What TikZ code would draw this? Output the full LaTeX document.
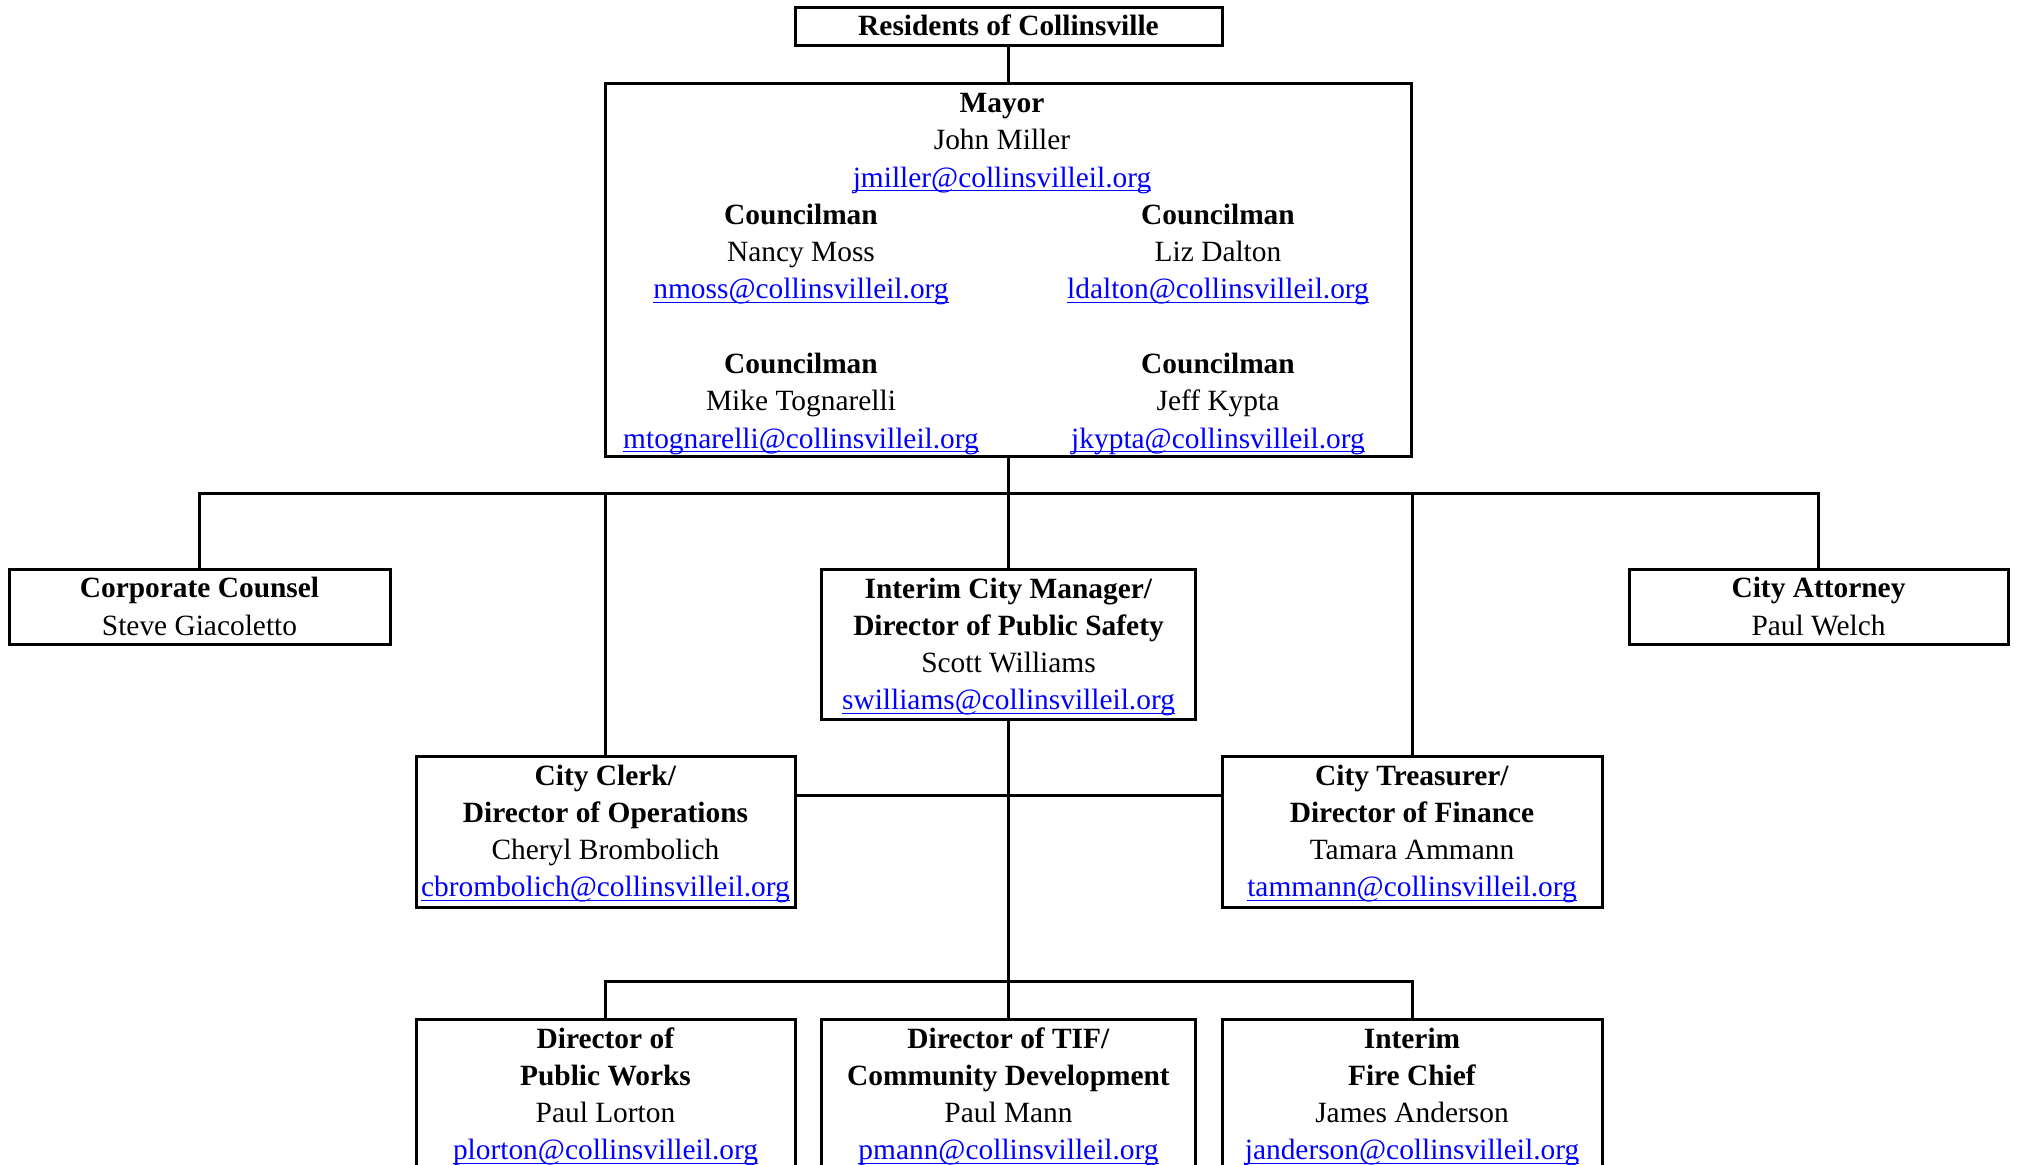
\documentclass[tikz,border=0pt]{standalone}
\usepackage{fontspec}
\setmainfont{Liberation Serif}
\usepackage{xcolor}
\definecolor{linkblue}{RGB}{0,0,255}
\newcommand\Ln[1]{\rule[-4.6pt]{0pt}{18.65pt}#1}
\newcommand\lnk[1]{{\color{linkblue}\setbox0\hbox{#1}\rlap{\rule[-2.1pt]{\wd0}{0.8pt}}\box0}}
\newcommand\orgfont{\fontsize{14.7}{18.65}\selectfont}
\tikzset{
  orgbox/.style={draw, line width=1.5pt, inner sep=0pt, align=center, font=\orgfont},
  txt/.style={inner sep=0pt, align=center, font=\orgfont, anchor=north},
  conn/.style={line width=1.5pt}
}
\begin{document}
\begin{tikzpicture}[x=0.5pt,y=-0.5pt]
\useasboundingbox (0,0) rectangle (2017,1165);
\clip (0,0) rectangle (2017,1165);
\fill[white] (0,0) rectangle (2017,1165);

% boxes
\node[orgbox, minimum width=213.5pt, minimum height=18.5pt] (res) at (1008.5,26.5) {\Ln{\textbf{Residents of Collinsville}}};
\node[orgbox, minimum width=403pt, minimum height=186.5pt] (mayor) at (1008.5,270.5) {};

\node[txt] (m1) at (1002,84) {\Ln{\textbf{Mayor}}};
\node[txt] (m2) at (1002,121.3) {\Ln{John Miller}};
\node[txt] (m3) at (1002,158.6) {\Ln{\lnk{jmiller@collinsvilleil.org}}};
\node[txt] (c1a) at (801,195.9) {\Ln{\textbf{Councilman}}};
\node[txt] (c1b) at (801,233.2) {\Ln{Nancy Moss}};
\node[txt] (c1c) at (801,270.5) {\Ln{\lnk{nmoss@collinsvilleil.org}}};
\node[txt] (c2a) at (1218,195.9) {\Ln{\textbf{Councilman}}};
\node[txt] (c2b) at (1218,233.2) {\Ln{Liz Dalton}};
\node[txt] (c2c) at (1218,270.5) {\Ln{\lnk{ldalton@collinsvilleil.org}}};
\node[txt] (c3a) at (801,345.1) {\Ln{\textbf{Councilman}}};
\node[txt] (c3b) at (801,382.4) {\Ln{Mike Tognarelli}};
\node[txt] (c3c) at (801,419.7) {\Ln{\lnk{mtognarelli@collinsvilleil.org}}};
\node[txt] (c4a) at (1218,345.1) {\Ln{\textbf{Councilman}}};
\node[txt] (c4b) at (1218,382.4) {\Ln{Jeff Kypta}};
\node[txt] (c4c) at (1218,419.7) {\Ln{\lnk{jkypta@collinsvilleil.org}}};

\node[orgbox, minimum width=190.5pt, minimum height=37pt] (cc) at (199.5,607) {\Ln{\textbf{Corporate Counsel}}\\\Ln{Steve Giacoletto}};
\node[orgbox, minimum width=189.5pt, minimum height=37pt] (ca) at (1818.5,607) {\Ln{\textbf{City Attorney}}\\\Ln{Paul Welch}};
\node[orgbox, minimum width=187pt, minimum height=74.5pt] (icm) at (1008.5,644.5) {\Ln{\textbf{Interim City Manager/}}\\\Ln{\textbf{Director of Public Safety}}\\\Ln{Scott Williams}\\\Ln{\lnk{swilliams@collinsvilleil.org}}};
\node[orgbox, minimum width=189.5pt, minimum height=75.5pt] (clerk) at (605.5,831.5) {\Ln{\textbf{City Clerk/}}\\\Ln{\textbf{Director of Operations}}\\\Ln{Cheryl Brombolich}\\\Ln{\lnk{cbrombolich@collinsvilleil.org}}};
\node[orgbox, minimum width=190pt, minimum height=75.5pt] (treas) at (1412,831.5) {\Ln{\textbf{City Treasurer/}}\\\Ln{\textbf{Director of Finance}}\\\Ln{Tamara Ammann}\\\Ln{\lnk{tammann@collinsvilleil.org}}};
\node[orgbox, minimum width=189.5pt, minimum height=74.5pt] (pw) at (605.5,1094.5) {\Ln{\textbf{Director of}}\\\Ln{\textbf{Public Works}}\\\Ln{Paul Lorton}\\\Ln{\lnk{plorton@collinsvilleil.org}}};
\node[orgbox, minimum width=187pt, minimum height=74.5pt] (tif) at (1008.5,1094.5) {\Ln{\textbf{Director of TIF/}}\\\Ln{\textbf{Community Development}}\\\Ln{Paul Mann}\\\Ln{\lnk{pmann@collinsvilleil.org}}};
\node[orgbox, minimum width=190pt, minimum height=74.5pt] (fire) at (1412,1094.5) {\Ln{\textbf{Interim}}\\\Ln{\textbf{Fire Chief}}\\\Ln{James Anderson}\\\Ln{\lnk{janderson@collinsvilleil.org}}};

% connectors
\coordinate (bus) at (1008.5,494);
\coordinate (mid) at (1008.5,795);
\coordinate (bb) at (1008.5,981.5);
\draw[conn] (res.south) -- (mayor.north);
\draw[conn] (mayor.south) -- (icm.north);
\draw[conn] (cc.north) |- (bus) -| (ca.north);
\draw[conn] (clerk.north) -- (clerk.north |- bus);
\draw[conn] (treas.north) -- (treas.north |- bus);
\draw[conn] (icm.south) -- (tif.north);
\draw[conn] (clerk.east |- mid) -- (treas.west |- mid);
\draw[conn] (pw.north) |- (bb) -| (fire.north);
\end{tikzpicture}
\end{document}
